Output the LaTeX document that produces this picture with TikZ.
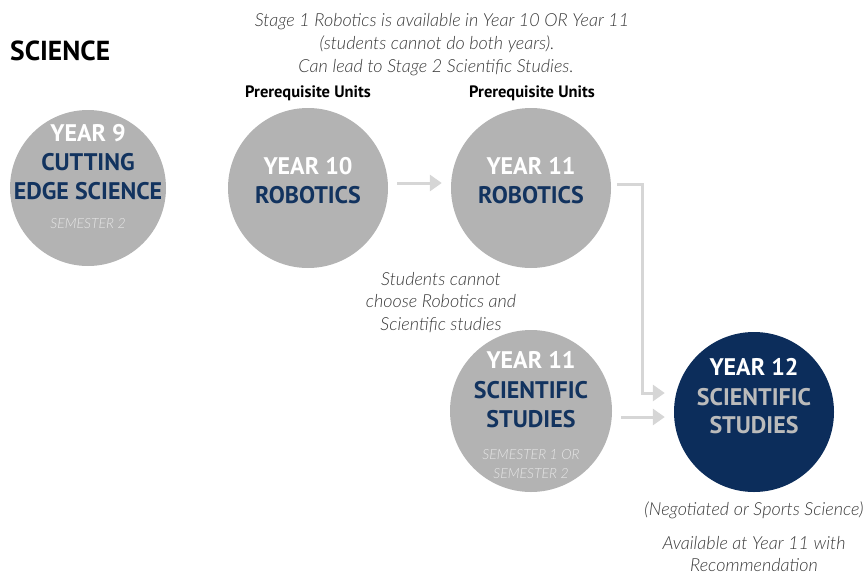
\documentclass[tikz,border=0pt]{standalone}
\usepackage{fontspec}
\usetikzlibrary{arrows.meta}
\setmainfont{PT Sans}
\IfFontExistsTF{Lato Light}{\newfontfamily\notefont{Lato Light}}{\newfontfamily\notefont{Lato}}
\definecolor{circgray}{HTML}{B3B3B3}
\definecolor{navy}{HTML}{0C2D5B}
\definecolor{navytext}{HTML}{12335F}
\definecolor{arrgray}{HTML}{D6D6D6}
\definecolor{semgray}{HTML}{E6E6E6}
\definecolor{ylabgray}{HTML}{BBBBBB}
\definecolor{notegray}{HTML}{3A3A3A}
\tikzset{
  circ/.style={circle,fill=circgray,draw=none,inner sep=0pt},
  navycirc/.style={circle,fill=navy,draw=none,inner sep=0pt},
  head/.style={anchor=base,font=\fontsize{24}{26}\selectfont\bfseries,inner sep=0pt},
  headw/.style={head,text=white},
  headn/.style={head,text=navytext},
  headg/.style={head,text=ylabgray},
  sem/.style={anchor=base,font=\fontsize{14}{16}\notefont\itshape,text=semgray,inner sep=0pt},
  note/.style={anchor=base,font=\fontsize{18}{20}\notefont\itshape,text=notegray,inner sep=0pt},
  prereq/.style={anchor=base,font=\fontsize{16.5}{18}\selectfont\bfseries,text=black,inner sep=0pt},
  arr/.style={draw=arrgray,line width=3pt,-{Triangle[length=12pt,width=16pt]}}
}
\begin{document}
\begin{tikzpicture}[x=1pt,y=-1pt]
\useasboundingbox (0,0) rectangle (867,573);
% title
\node[anchor=base west,inner sep=0pt,font=\fontsize{27.5}{29}\selectfont\bfseries] (title) at (10,60) {SCIENCE};
% top note
\node[note] (t1) at (442,26) {Stage 1 Robotics is available in Year 10 OR Year 11};
\node[note] (t2) at (437,49) {(students cannot do both years).};
\node[note] (t3) at (436,72) {Can lead to Stage 2 Scientific Studies.};
\node[prereq] (p1) at (308,97) {Prerequisite Units};
\node[prereq] (p2) at (532,97) {Prerequisite Units};
% circles
\node[circ,minimum size=156pt] (y9) at (88,188) {};
\node[circ,minimum size=160pt] (y10) at (308,188) {};
\node[circ,minimum size=160pt] (y11r) at (531,188) {};
\node[circ,minimum size=162pt] (y11s) at (531,411) {};
\node[navycirc,minimum size=160pt] (y12) at (754,412) {};
% year 9 text
\node[headw] (y9a) at (88,141) {YEAR 9};
\node[headn] (y9b) at (88,170) {CUTTING};
\node[headn] (y9c) at (88,199) {EDGE SCIENCE};
\node[sem] (y9d) at (88,228) {SEMESTER 2};
% year 10
\node[headw] (y10a) at (308,174) {YEAR 10};
\node[headn] (y10b) at (308,203) {ROBOTICS};
% year 11 robotics
\node[headw] (y11a) at (531,174) {YEAR 11};
\node[headn] (y11b) at (531,203) {ROBOTICS};
% middle note
\node[note] (m1) at (441,285) {Students cannot};
\node[note] (m2) at (441,307) {choose Robotics and};
\node[note] (m3) at (441,330) {Scientific studies};
% year 11 scientific
\node[headw] (s1) at (531,368) {YEAR 11};
\node[headn] (s2) at (531,398) {SCIENTIFIC};
\node[headn] (s3) at (531,427) {STUDIES};
\node[sem] (s4) at (531,459) {SEMESTER 1 OR};
\node[sem] (s5) at (531,478) {SEMESTER 2};
% year 12
\node[headw] (z1) at (754,375) {YEAR 12};
\node[headg] (z2) at (754,405) {SCIENTIFIC};
\node[headg] (z3) at (754,433) {STUDIES};
% bottom notes
\node[note] (b1) at (754,515) {(Negotiated or Sports Science)};
\node[note] (b2) at (754,549) {Available at Year 11 with};
\node[note] (b3) at (754,571) {Recommendation};
% arrows
\draw[arr] ([xshift=9pt,yshift=5pt]y10.east) -- ([xshift=-9pt,yshift=5pt]y11r.west);
\draw[arr] ([xshift=6pt,yshift=4pt]y11r.east) -- ++(25,0) |- ([xshift=-9pt,yshift=19pt]y12.west);
\draw[arr] ([xshift=9pt,yshift=-6pt]y11s.east) -- ([xshift=-9pt,yshift=-5pt]y12.west);
\end{tikzpicture}
\end{document}
